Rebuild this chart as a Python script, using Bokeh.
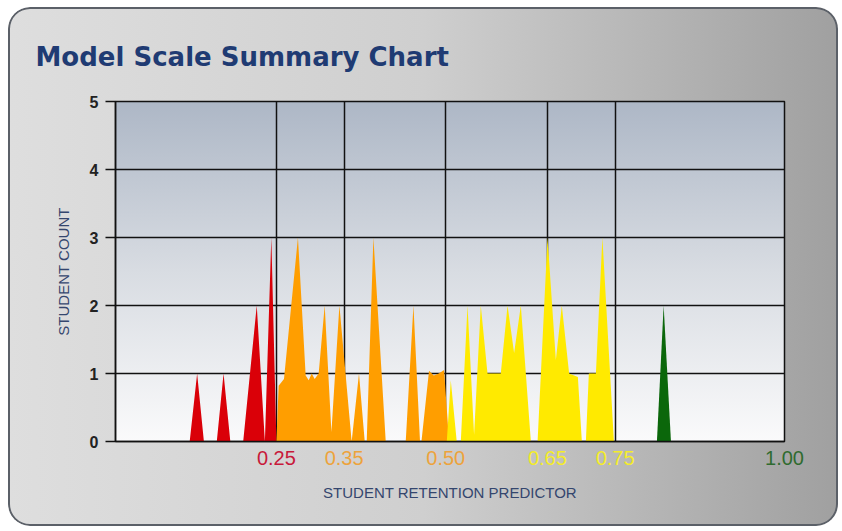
from bokeh.plotting import figure
from bokeh.models import ColumnDataSource, FixedTicker, LinearAxis, Range1d
from bokeh.embed import file_html
from bokeh.resources import INLINE

# ---------------- data ----------------
title_text = "Model Scale Summary Chart"
x_title = "STUDENT RETENTION PREDICTOR"
y_title = "STUDENT COUNT"

x_ticks = [0.25, 0.35, 0.50, 0.65, 0.75, 1.00]
x_tick_labels = ["0.25", "0.35", "0.50", "0.65", "0.75", "1.00"]
x_tick_colors = ["#C8193A", "#EDA33C", "#EDA33C", "#F4EC2A", "#F4EC2A", "#2F6B2F"]
y_ticks = [0, 1, 2, 3, 4, 5]

red_x = [0.122, 0.133, 0.143, 0.162, 0.172, 0.182, 0.201, 0.221, 0.233, 0.2425, 0.250]
red_y = [0, 1, 0, 0, 1, 0, 0, 2, 0, 3, 0]

orange_x = [0.250, 0.2533, 0.2612, 0.2818, 0.2932, 0.2977, 0.3021, 0.3065, 0.3124,
            0.3213, 0.3312, 0.3430, 0.3611, 0.3719, 0.3804, 0.3833, 0.3932, 0.4114,
            0.4409, 0.4523, 0.4620, 0.4641, 0.4753, 0.4823, 0.4897, 0.4975, 0.5049]
orange_y = [0, 0.82, 0.92, 3, 0.97, 0.9, 1.0, 0.92, 1.0,
            2, 0.14, 2, 0, 1, 0, 0, 3, 0,
            0, 2, 0, 0, 1.04, 0.97, 1.0, 1.05, 0]

yellow_x = [0.5015, 0.5074, 0.5162, 0.5222, 0.5321, 0.5418, 0.5517, 0.5616, 0.5812,
            0.5912, 0.6009, 0.6108, 0.6256, 0.6355, 0.6502, 0.6625, 0.6713, 0.6821,
            0.6950, 0.7009, 0.7068, 0.7112, 0.7216, 0.7312, 0.7482]
yellow_y = [0, 0.9, 0, 0, 2, 0.1, 2, 1, 1,
            2, 1.3, 2, 0, 0, 3, 1.2, 2, 1,
            0.95, 0, 0, 1, 1, 3, 0]

green_x = [0.8117, 0.8216, 0.8324]
green_y = [0, 2, 0]

# ---------------- figure ----------------
p = figure(width=830, height=519, output_backend="svg", toolbar_location=None,
           x_range=Range1d(0.0125, 1.0), y_range=Range1d(0, 5),
           min_border_left=107, min_border_right=54, min_border_top=94, min_border_bottom=85)

p.border_fill_color = None
p.background_fill_color = None
p.outline_line_color = "#111111"
p.outline_line_width = 1.5

p.styles = {
    "margin-left": "8px",
    "margin-top": "7px",
    "background": ("linear-gradient(to bottom, #adb7c6 0%, #d8dce2 50%, #fafafb 100%) "
                   "107px 94px / 669px 340px no-repeat, "
                   "linear-gradient(to right, #dedede 0%, #cfcfcf 50%, #a0a0a0 100%)"),
    "border-radius": "22px",
    "box-shadow": "inset 0 0 0 2px #5b6068",
}

# title
p.title.text = title_text
p.title.text_font = "DejaVu Sans"
p.title.text_font_size = "26px"
p.title.text_font_style = "bold"
p.title.text_color = "#1F3B73"
p.title.align = "left"
p.title.offset = -80
p.title.standoff = 59

# grids
p.xgrid.ticker = FixedTicker(ticks=x_ticks)
p.ygrid.ticker = FixedTicker(ticks=y_ticks)
p.grid.grid_line_color = "#111111"
p.grid.grid_line_width = 1.5
p.grid.grid_line_alpha = 1.0

# y axis
p.yaxis.ticker = FixedTicker(ticks=y_ticks)
p.yaxis.major_tick_out = 10
p.yaxis.major_tick_in = 0
p.yaxis.minor_tick_out = 0
p.yaxis.minor_tick_in = 0
p.yaxis.major_tick_line_color = "#111111"
p.yaxis.major_tick_line_width = 1.5
p.yaxis.axis_line_color = "#111111"
p.yaxis.axis_line_width = 1.5
p.yaxis.major_label_text_font = "Liberation Sans"
p.yaxis.major_label_text_font_size = "16px"
p.yaxis.major_label_text_font_style = "bold"
p.yaxis.major_label_text_color = "#222222"
p.yaxis.major_label_standoff = 7
p.yaxis.axis_label = y_title
p.yaxis.axis_label_text_font = "Liberation Sans"
p.yaxis.axis_label_text_font_size = "15px"
p.yaxis.axis_label_text_font_style = "normal"
p.yaxis.axis_label_text_color = "#34466E"
p.yaxis.axis_label_standoff = 15

# x axes: one per label colour, overlaid at the same height
groups = []
for t, lab, col in zip(x_ticks, x_tick_labels, x_tick_colors):
    if groups and groups[-1][0] == col:
        groups[-1][1].append(t)
        groups[-1][2][t] = lab
    else:
        groups.append((col, [t], {t: lab}))

LABEL_EXTENT = 17
axes = [p.xaxis[0]]
for _ in groups[1:]:
    ax = LinearAxis()
    p.add_layout(ax, "below")
    axes.append(ax)

for i, (ax, (col, ticks, overrides)) in enumerate(zip(axes, groups)):
    ax.ticker = FixedTicker(ticks=ticks)
    ax.major_label_overrides = overrides
    ax.major_tick_out = 0
    ax.major_tick_in = 0
    ax.minor_tick_out = 0
    ax.minor_tick_in = 0
    ax.major_label_text_font = "Liberation Sans"
    ax.major_label_text_font_size = "20px"
    ax.major_label_text_color = col
    if i == 0:
        ax.axis_line_color = "#111111"
        ax.axis_line_width = 1.5
        ax.major_label_standoff = 9
    else:
        ax.axis_line_color = None
        ax.major_label_standoff = -LABEL_EXTENT
    if i == len(axes) - 1:
        ax.axis_label = x_title
        ax.axis_label_text_font = "Liberation Sans"
        ax.axis_label_text_font_size = "15px"
        ax.axis_label_text_font_style = "normal"
        ax.axis_label_text_color = "#34466E"
        ax.axis_label_standoff = 16

# areas
for xs, ys, col in [(red_x, red_y, "#DA0008"), (orange_x, orange_y, "#FF9E00"),
                    (yellow_x, yellow_y, "#FFEA00"), (green_x, green_y, "#0B670B")]:
    src = ColumnDataSource(dict(x=xs, y=ys))
    p.varea(x="x", y1=0, y2="y", source=src, fill_color=col)

open("out.html", "w").write(file_html(p, INLINE))
